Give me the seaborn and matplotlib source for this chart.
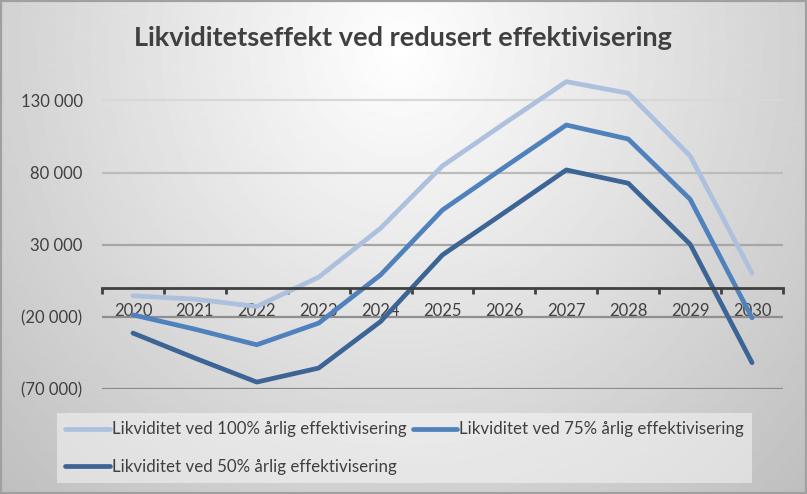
import numpy as np
import pandas as pd
import matplotlib
matplotlib.use('Agg')
import matplotlib.pyplot as plt
import seaborn as sns
from matplotlib.ticker import FuncFormatter

#%% Data (lest av figuren)

years = list(range(2020, 2031))
likv_100 = [-5300, -7600, -12700, 7600, 41500, 84600, 114000, 142900, 134900, 91500, 10400]
likv_75 = [-18500, -28400, -39200, -24200, 9200, 54100, 83700, 112900, 103200, 61500, -20600]
likv_50 = [-31100, -48400, -65000, -55300, -23100, 23000, 52300, 81800, 72600, 30400, -51600]
serie_navn = ['Likviditet ved 100% årlig effektivisering',
              'Likviditet ved 75% årlig effektivisering',
              'Likviditet ved 50% årlig effektivisering']
y_ticks = [-70000, -20000, 30000, 80000, 130000]
tittel = 'Likviditetseffekt ved redusert effektivisering'

farger = ['#adc0de', '#4f81bd', '#3c6494']
tekstfarge = '#404040'
# rutenett blir lysere oppover (som gradienten i originalen)
grid_farger = ['#8c8c8c', '#8f8f8f', '#a6a6a6', '#bcbcbc', '#d8d8d8']

df = pd.DataFrame({
    'År': years * 3,
    'Likviditet': likv_100 + likv_75 + likv_50,
    'Serie': [s for s in serie_navn for _ in years],
})

#%% Oppsett

sns.set_theme(style='white')
plt.rcParams['font.family'] = ['Lato', 'DejaVu Sans']

W, H = 807, 494
fig = plt.figure(figsize=(W / 100, H / 100), dpi=100)

# bakgrunn med gradient (hvit oppe i midten, grå mot kantene)
bg_ax = fig.add_axes([0, 0, 1, 1], zorder=-10)
yy, xx = np.mgrid[0:H, 0:W]
d = np.sqrt(((xx - 400) / 430) ** 2 + ((yy - 50) / 470) ** 2)
bg = 1 - 0.19 * d
bg_ax.imshow(bg, cmap='gray', vmin=0, vmax=1, aspect='auto', extent=(0, 1, 0, 1))
bg_ax.add_patch(plt.Rectangle((0, 0), 1, 1, transform=bg_ax.transAxes,
                              fill=False, edgecolor='#a0a0a0', linewidth=3))
bg_ax.set_xlim(0, 1)
bg_ax.set_ylim(0, 1)
bg_ax.axis('off')

ax = fig.add_axes([102 / W, 1 - 389.3 / H, (783 - 102) / W, (389.3 - 71.4) / H])
ax.set_facecolor('none')

sns.lineplot(data=df, x='År', y='Likviditet', hue='Serie', palette=farger,
             linewidth=3.4, solid_capstyle='round', ax=ax)

ax.set_xlim(2019.5, 2030.5)
ax.set_ylim(-70000, 150000)

# x-akse ved 0
for s in ['top', 'right', 'left']:
    ax.spines[s].set_visible(False)
ax.spines['bottom'].set_position(('data', 0))
ax.spines['bottom'].set_color(tekstfarge)
ax.spines['bottom'].set_linewidth(2)

ax.set_xticks(years)
ax.set_xticks(np.arange(2019.5, 2031), minor=True)
ax.tick_params(axis='x', which='major', length=0, pad=11, labelsize=12, labelcolor=tekstfarge)
ax.tick_params(axis='x', which='minor', length=4, width=2, color=tekstfarge, direction='out', bottom=True)

ax.set_yticks(y_ticks)
ax.yaxis.set_major_formatter(FuncFormatter(
    lambda v, p: f"({abs(int(v)):,})".replace(',', ' ') if v < 0 else f"{int(v):,}".replace(',', ' ')))
ax.tick_params(axis='y', length=0, pad=14, labelsize=12, labelcolor=tekstfarge)
ax.yaxis.grid(True, linewidth=1.6)
for gl, c in zip(ax.get_ygridlines(), grid_farger):
    gl.set_color(c)
ax.set_axisbelow(True)
ax.set_xlabel('')
ax.set_ylabel('')

fig.text(0.4988, 1 - 38 / H, tittel, ha='center', va='center', fontsize=19.5,
         fontweight='bold', color=tekstfarge)

# legend: rad 1 = 100% og 75%, rad 2 = 50%
handles, labels = ax.get_legend_handles_labels()
ax.get_legend().remove()
order = [0, 2, 1]
leg = fig.legend([handles[i] for i in order], [labels[i] for i in order],
                 loc='upper left', bbox_to_anchor=(57 / W, 1 - 413 / H),
                 bbox_transform=fig.transFigure, ncol=2, frameon=True,
                 facecolor='white', framealpha=0.45, edgecolor='none', fancybox=False,
                 handlelength=2.6, handletextpad=0.12, columnspacing=0.4,
                 borderpad=0.5, borderaxespad=0, labelspacing=1.25, fontsize=12.2)
for t in leg.get_texts():
    t.set_color(tekstfarge)

fig.savefig('out.png', dpi=100)
